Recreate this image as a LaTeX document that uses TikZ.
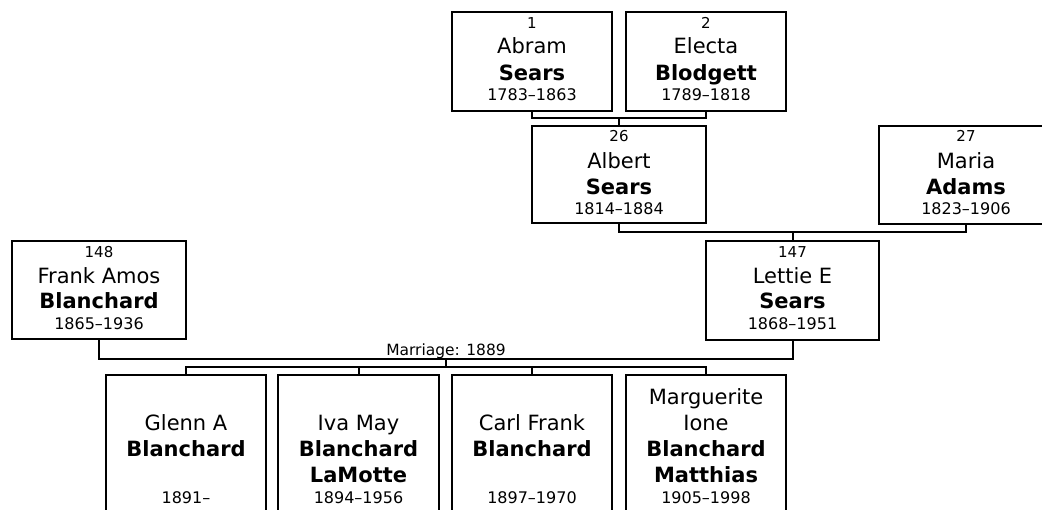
\documentclass[tikz,border=0pt]{standalone}
\usepackage{fontspec}
\setmainfont{DejaVu Sans}
\usetikzlibrary{fit}
\begin{document}
\begin{tikzpicture}[x=0.75pt,y=-0.75pt,
  pbox/.style={draw, line width=1.5pt, inner sep=0pt, rectangle},
  conn/.style={draw, line width=1.5pt},
  numt/.style={anchor=base, inner sep=0pt, font=\fontsize{11.25}{13}\selectfont},
  namet/.style={anchor=base, inner sep=0pt, font=\fontsize{15.75}{18}\selectfont},
  surt/.style={anchor=base, inner sep=0pt, font=\fontsize{15.75}{18}\selectfont\bfseries},
  datet/.style={anchor=base, inner sep=0pt, font=\fontsize{12}{14}\selectfont},
  labt/.style={anchor=base, inner sep=0pt, font=\fontsize{11.6}{14}\selectfont}]
\useasboundingbox (0,0) rectangle (1042,510);
\clip (0,0) rectangle (1042,510);
% boxes
\node[pbox, fit={(452,12) (612,111)}] (p1) {};
\node[pbox, fit={(626,12) (786,111)}] (p2) {};
\node[pbox, fit={(532,126) (706,223)}] (p26) {};
\node[pbox, fit={(879,126) (1053,224)}] (p27) {};
\node[pbox, fit={(12,241) (186,339)}] (p148) {};
\node[pbox, fit={(706,241) (879,340)}] (p147) {};
\node[pbox, fit={(106,375) (266,540)}] (c1) {};
\node[pbox, fit={(278,375) (439,540)}] (c2) {};
\node[pbox, fit={(452,375) (612,540)}] (c3) {};
\node[pbox, fit={(626,375) (786,540)}] (c4) {};
% texts: 1 Abram Sears
\node[numt] (t1a) at (532,28.5) {1};
\node[namet] (t1b) at (532,54) {Abram};
\node[surt] (t1c) at (532,80.5) {Sears};
\node[datet] (t1d) at (532,100) {1783–1863};
% 2 Electa
\node[numt] (t2a) at (706,28.5) {2};
\node[namet] (t2b) at (706,54) {Electa};
\node[surt] (t2c) at (706,80.5) {Blodgett};
\node[datet] (t2d) at (706,100) {1789–1818};
% 26 Albert
\node[numt] (t26a) at (619,142) {26};
\node[namet] (t26b) at (619,168) {Albert};
\node[surt] (t26c) at (619,194.5) {Sears};
\node[datet] (t26d) at (619,214) {1814–1884};
% 27 Maria
\node[numt] (t27a) at (966,142) {27};
\node[namet] (t27b) at (966,168) {Maria};
\node[surt] (t27c) at (966,194.5) {Adams};
\node[datet] (t27d) at (966,214) {1823–1906};
% 148 Frank
\node[numt] (t148a) at (99,257.5) {148};
\node[namet] (t148b) at (99,283) {Frank Amos};
\node[surt] (t148c) at (99,308) {Blanchard};
\node[datet] (t148d) at (99,329) {1865–1936};
% 147 Lettie
\node[numt] (t147a) at (792.5,257.5) {147};
\node[namet] (t147b) at (792.5,283) {Lettie E};
\node[surt] (t147c) at (792.5,308) {Sears};
\node[datet] (t147d) at (792.5,329) {1868–1951};
% children
\node[namet] (tc1b) at (186,430) {Glenn A};
\node[surt] (tc1c) at (186,456) {Blanchard};
\node[datet] (tc1d) at (186,503) {1891–};
\node[namet] (tc2b) at (358.5,430) {Iva May};
\node[surt] (tc2c) at (358.5,456) {Blanchard};
\node[surt] (tc2e) at (358.5,482) {LaMotte};
\node[datet] (tc2d) at (358.5,503) {1894–1956};
\node[namet] (tc3b) at (532,430) {Carl Frank};
\node[surt] (tc3c) at (532,456) {Blanchard};
\node[datet] (tc3d) at (532,503) {1897–1970};
\node[namet] (tc4a) at (706,404) {Marguerite};
\node[namet] (tc4b) at (706,430) {Ione};
\node[surt] (tc4c) at (706,456) {Blanchard};
\node[surt] (tc4e) at (706,482) {Matthias};
\node[datet] (tc4d) at (706,503) {1905–1998};
% connectors
\coordinate (j1) at (619,118);
\draw[conn] (p1.south) |- (j1) -| (p2.south);
\draw[conn] (j1) -- (p26.north);
\coordinate (j2) at (792.5,232);
\draw[conn] (p26.south) |- (j2) -| (p27.south);
\draw[conn] (j2) -- (p147.north);
\coordinate (j3) at (446,359);
\draw[conn] (p148.south) |- (j3) -| (p147.south);
\node[labt] (mar) at (446,355.5) {Marriage: 1889};
\coordinate (j4) at (446,367);
\draw[conn] (j3) -- (j4);
\draw[conn] (c1.north) |- (j4) -| (c4.north);
\draw[conn] (c2.north) -- (c2.north |- j4);
\draw[conn] (c3.north) -- (c3.north |- j4);
\end{tikzpicture}
\end{document}
